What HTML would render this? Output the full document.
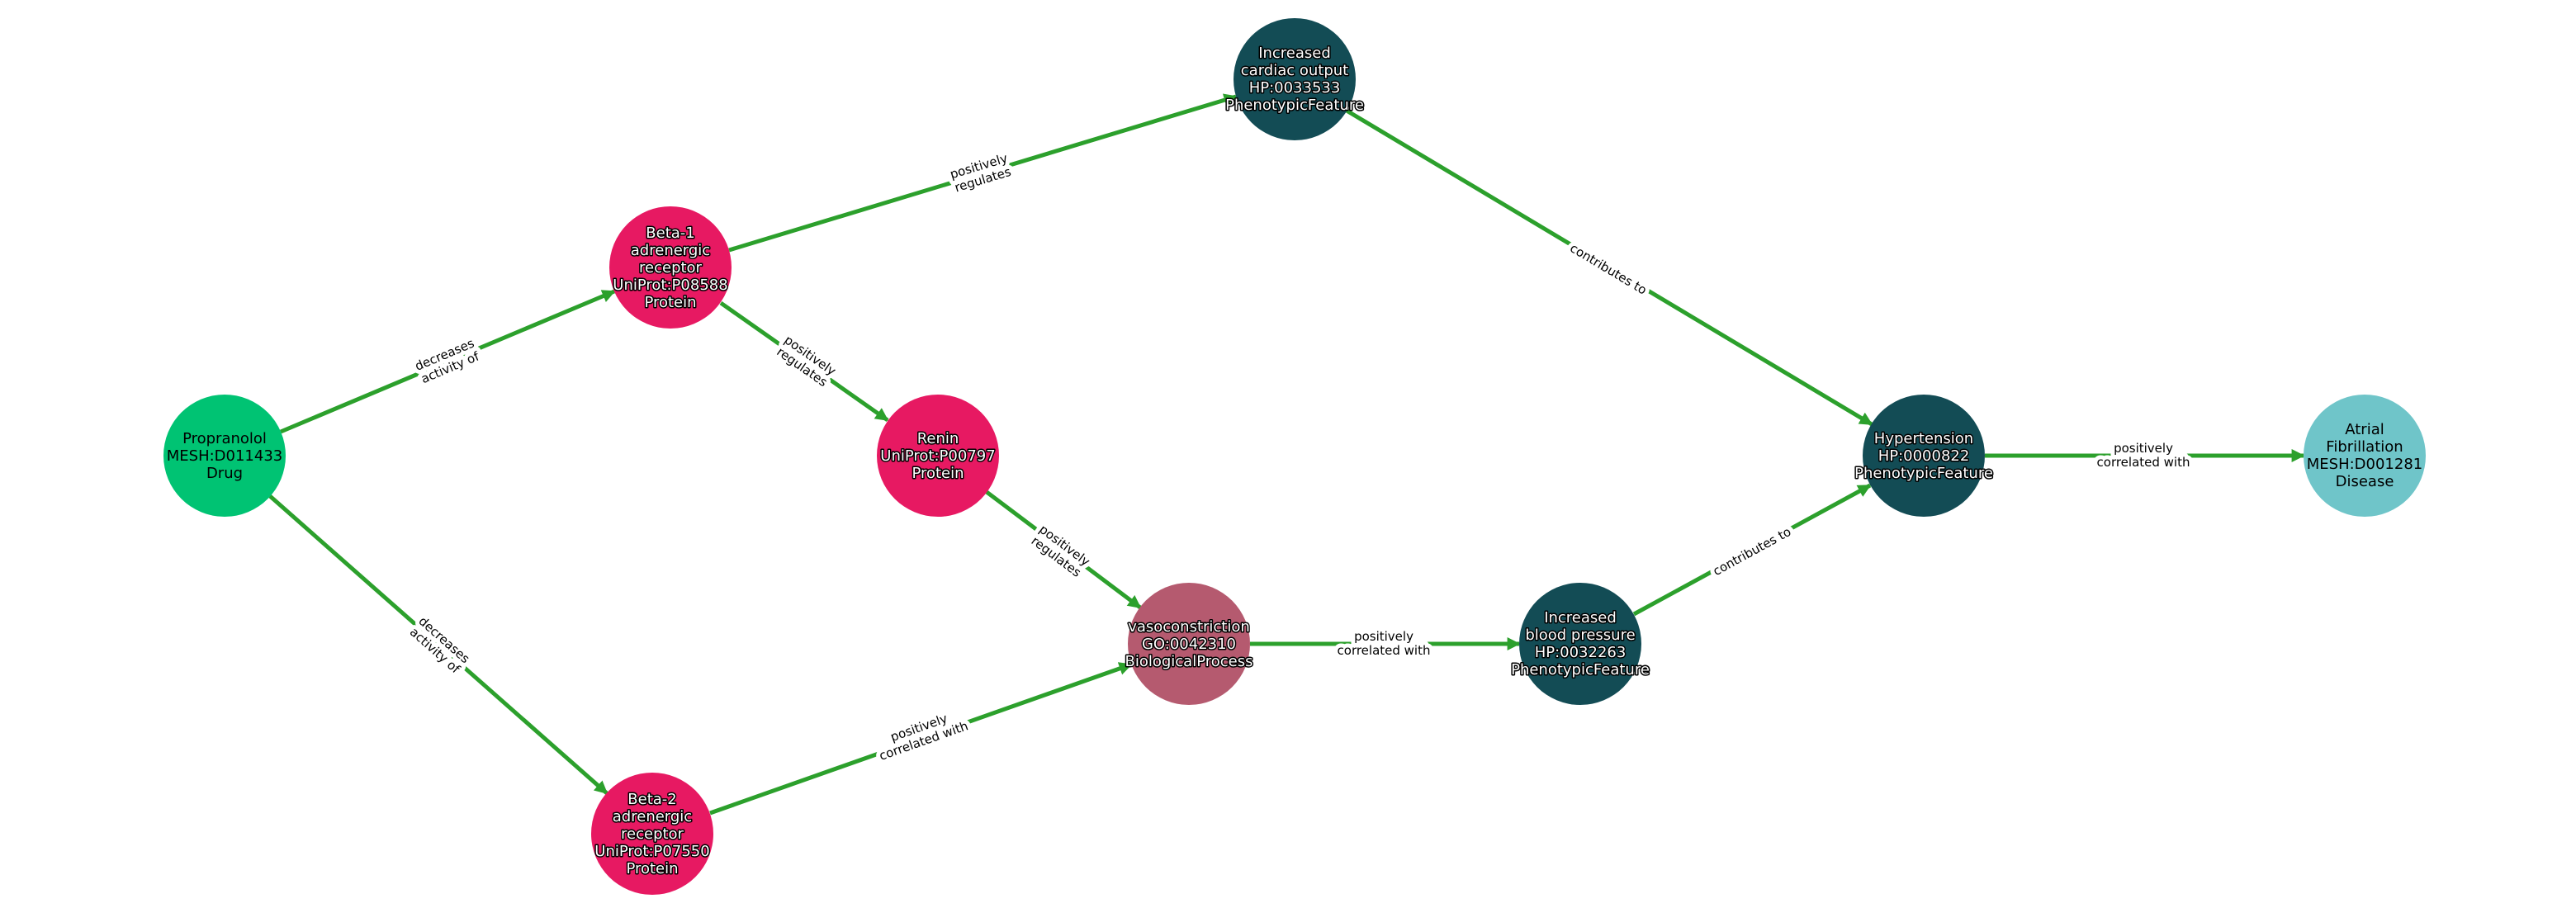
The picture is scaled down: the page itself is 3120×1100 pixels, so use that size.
<!DOCTYPE html>
<html><head><meta charset="utf-8"><style>
html,body{margin:0;padding:0;background:#fff;}
svg{display:block;}
.n{font-family:"DejaVu Sans","Liberation Sans",sans-serif;font-size:18px;text-anchor:middle;}
.w{fill:#fff;stroke:#000;stroke-width:3px;paint-order:stroke;stroke-linejoin:round;}
.b{fill:#000;}
.e{font-family:"DejaVu Sans","Liberation Sans",sans-serif;font-size:15px;text-anchor:middle;fill:#000;stroke:#fff;stroke-width:10px;paint-order:stroke;stroke-linejoin:round;}
line{stroke:#2ca02c;stroke-width:5;}
</style></head><body>
<svg width="3120" height="1100" viewBox="0 0 3120 1100" xmlns="http://www.w3.org/2000/svg">
<defs><marker id="a" viewBox="0 0 10 10" refX="9" refY="5" markerWidth="3.2" markerHeight="3.2" orient="auto" markerUnits="strokeWidth"><path d="M0,0 L10,5 L0,10 z" fill="#2ca02c"/></marker></defs>
<g marker-end="url(#a)">
<line x1="340" y1="523" x2="744" y2="353"/>
<line x1="883" y1="303" x2="1497" y2="117"/>
<line x1="873" y1="367" x2="1075" y2="509"/>
<line x1="327" y1="601" x2="735" y2="961"/>
<line x1="1195" y1="596" x2="1381" y2="736"/>
<line x1="860" y1="985" x2="1370" y2="805"/>
<line x1="1514" y1="780" x2="1840" y2="780"/>
<line x1="1631" y1="134" x2="2267" y2="514"/>
<line x1="1979" y1="744" x2="2265" y2="588"/>
<line x1="2404" y1="552" x2="2790" y2="552"/>
</g>
<g class="e">
<text transform="translate(542,438) rotate(-22.9)"><tspan x="0" y="-4">decreases</tspan><tspan x="0" y="13">activity of</tspan></text>
<text transform="translate(1188,210) rotate(-16.8)"><tspan x="0" y="-4">positively</tspan><tspan x="0" y="13">regulates</tspan></text>
<text transform="translate(976,438) rotate(35)"><tspan x="0" y="-4">positively</tspan><tspan x="0" y="13">regulates</tspan></text>
<text transform="translate(532,782) rotate(41.5)"><tspan x="0" y="-4">decreases</tspan><tspan x="0" y="13">activity of</tspan></text>
<text transform="translate(1284,668) rotate(36.9)"><tspan x="0" y="-4">positively</tspan><tspan x="0" y="13">regulates</tspan></text>
<text transform="translate(1116,890) rotate(-19.5)"><tspan x="0" y="-4">positively</tspan><tspan x="0" y="13">correlated with</tspan></text>
<text transform="translate(1676,780)"><tspan x="0" y="-4">positively</tspan><tspan x="0" y="13">correlated with</tspan></text>
<text transform="translate(1948,326) rotate(30.9)"><tspan x="0" y="5">contributes to</tspan></text>
<text transform="translate(2122,668) rotate(-28.7)"><tspan x="0" y="5">contributes to</tspan></text>
<text transform="translate(2596,552)"><tspan x="0" y="-4">positively</tspan><tspan x="0" y="13">correlated with</tspan></text>
</g>
<circle cx="272" cy="552" r="74" fill="#00c373"/>
<circle cx="812" cy="324" r="74" fill="#e71962"/>
<circle cx="1568" cy="96" r="74" fill="#134c55"/>
<circle cx="1136" cy="552" r="74" fill="#e71962"/>
<circle cx="790" cy="1010" r="74" fill="#e71962"/>
<circle cx="1440" cy="780" r="74" fill="#b55a6f"/>
<circle cx="1914" cy="780" r="74" fill="#134c55"/>
<circle cx="2330" cy="552" r="74" fill="#134c55"/>
<circle cx="2864" cy="552" r="74" fill="#6fc5c9"/>
<text class="n b"><tspan x="272" y="537">Propranolol</tspan><tspan x="272" y="558">MESH:D011433</tspan><tspan x="272" y="579">Drug</tspan></text>
<text class="n w"><tspan x="812" y="288">Beta-1</tspan><tspan x="812" y="309">adrenergic</tspan><tspan x="812" y="330">receptor</tspan><tspan x="812" y="351">UniProt:P08588</tspan><tspan x="812" y="372">Protein</tspan></text>
<text class="n w"><tspan x="1568" y="70">Increased</tspan><tspan x="1568" y="91">cardiac output</tspan><tspan x="1568" y="112">HP:0033533</tspan><tspan x="1568" y="133">PhenotypicFeature</tspan></text>
<text class="n w"><tspan x="1136" y="537">Renin</tspan><tspan x="1136" y="558">UniProt:P00797</tspan><tspan x="1136" y="579">Protein</tspan></text>
<text class="n w"><tspan x="790" y="974">Beta-2</tspan><tspan x="790" y="995">adrenergic</tspan><tspan x="790" y="1016">receptor</tspan><tspan x="790" y="1037">UniProt:P07550</tspan><tspan x="790" y="1058">Protein</tspan></text>
<text class="n w"><tspan x="1440" y="765">vasoconstriction</tspan><tspan x="1440" y="786">GO:0042310</tspan><tspan x="1440" y="807">BiologicalProcess</tspan></text>
<text class="n w"><tspan x="1914" y="754">Increased</tspan><tspan x="1914" y="775">blood pressure</tspan><tspan x="1914" y="796">HP:0032263</tspan><tspan x="1914" y="817">PhenotypicFeature</tspan></text>
<text class="n w"><tspan x="2330" y="537">Hypertension</tspan><tspan x="2330" y="558">HP:0000822</tspan><tspan x="2330" y="579">PhenotypicFeature</tspan></text>
<text class="n b"><tspan x="2864" y="526">Atrial</tspan><tspan x="2864" y="547">Fibrillation</tspan><tspan x="2864" y="568">MESH:D001281</tspan><tspan x="2864" y="589">Disease</tspan></text>
</svg>
</body></html>
